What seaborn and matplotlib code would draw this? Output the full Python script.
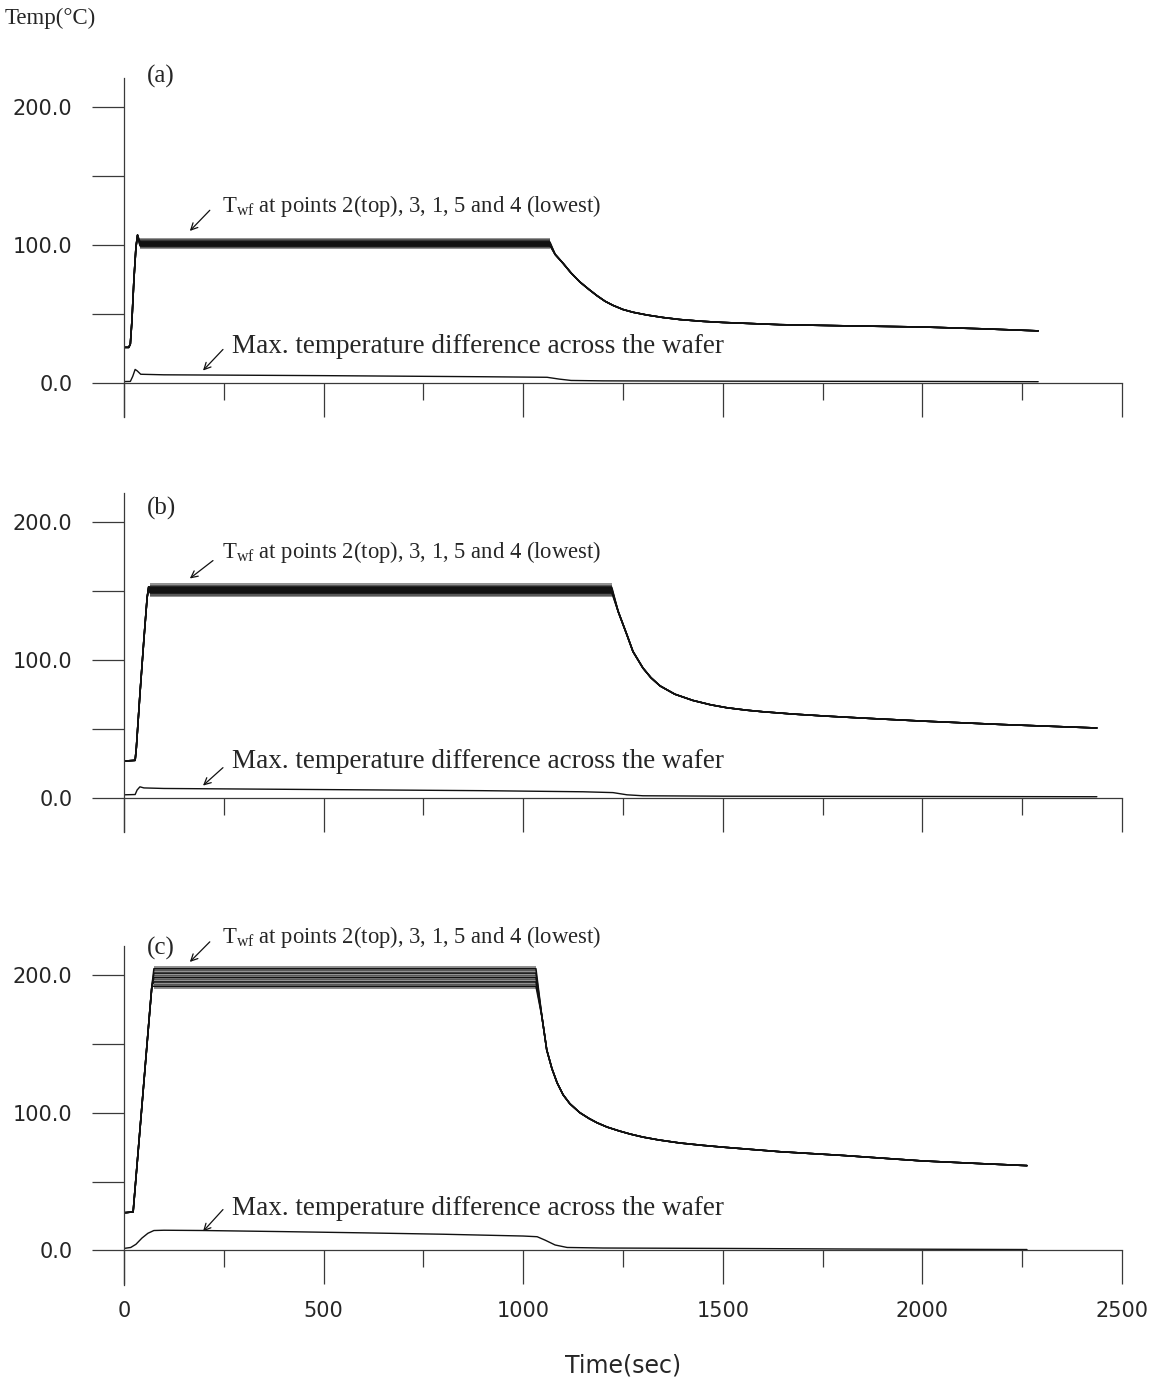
import matplotlib
matplotlib.use("Agg")
import matplotlib.pyplot as plt
import pandas as pd
import seaborn as sns

# ------------------------------------------------------------------ data
points = ["2", "3", "1", "5", "4"]          # top ... lowest

# panel (a)
a_rise_t = [0, 12, 16, 20, 25, 30, 34]
a_rise_T = [25.5, 25.5, 28, 45, 75, 98, 107]
a_plateau_t = [40, 1067]
a_levels = [102.0, 101.3, 100.6, 99.9, 99.2]
a_swing = 2.6
a_decay_t = [1080, 1100, 1120, 1142, 1165, 1185, 1205, 1225, 1250, 1275,
             1310, 1350, 1393, 1450, 1500, 1643, 1800, 2000, 2150, 2290]
a_decay_T = [93, 86.5, 79.5, 73, 67.5, 63, 59, 56, 53, 51,
             49, 47.2, 45.7, 44.4, 43.6, 42, 41.2, 40.3, 39, 37.5]
a_diff_t = [0, 16, 22, 28, 33, 42, 100, 300, 500, 700, 900, 1060, 1090,
            1120, 1200, 1500, 2000, 2290]
a_diff_T = [0.7, 0.8, 4.5, 9.5, 8.5, 6.0, 5.6, 5.3, 5.0, 4.6, 4.2, 3.8, 2.5,
            1.5, 1.2, 1.0, 0.8, 0.6]

# panel (b)
b_rise_t = [0, 28, 31, 40, 50, 58, 62]
b_rise_T = [26.5, 27, 36, 75, 115, 145, 153]
b_plateau_t = [65, 1222]
b_levels = [152.6, 151.6, 150.6, 149.6, 148.6]
b_swing = 3.0
b_decay_t = [1238, 1260, 1275, 1300, 1320, 1343, 1380, 1425, 1470, 1510,
             1560, 1600, 1676, 1760, 1843, 2000, 2200, 2437]
b_decay_T = [135, 118, 106, 94, 87, 81, 75, 70.5, 67.3, 65.2,
             63.4, 62.3, 60.6, 59.1, 57.8, 55.5, 53, 50.5]
b_diff_t = [0, 28, 33, 40, 50, 100, 300, 600, 900, 1150, 1225, 1260, 1300,
            1500, 2000, 2437]
b_diff_T = [2.0, 2.2, 5.5, 7.8, 7.0, 6.6, 6.2, 5.6, 5.0, 4.2, 3.6, 2.0, 1.3,
            1.0, 0.8, 0.6]

# panel (c)
c_rise_t = [0, 5, 23, 27, 35, 45, 55, 65, 70]
c_rise_T = [27.5, 27.5, 28, 42, 70, 105, 140, 175, 192]
c_plateau_t = [75, 1032]
c_levels = [204.5, 201.3, 198.1, 194.9, 191.7]
c_swing = 2.0
c_decay_t = [1047, 1059, 1072, 1085, 1100, 1117, 1142, 1165, 1185, 1210,
             1240, 1268, 1300, 1340, 1393, 1450, 1500, 1643, 1800, 2000,
             2150, 2262]
c_decay_T = [169.6, 145.6, 132, 121.7, 113, 106.5, 100, 95.8, 92.7, 89.6,
             86.8, 84.5, 82.3, 80.2, 78, 76.3, 75, 71.7, 69, 65,
             63, 61.6]
c_diff_t = [0, 17, 30, 45, 60, 75, 100, 200, 400, 600, 800, 1000, 1035,
            1055, 1080, 1110, 1200, 1500, 1800, 2262]
c_diff_T = [1.5, 2.2, 4.5, 9, 12.5, 14.5, 14.7, 14.5, 13.7, 12.8, 11.8, 10.5,
            10.0, 7.5, 4.0, 2.2, 1.8, 1.5, 1.1, 0.7]

x_major = [0, 500, 1000, 1500, 2000, 2500]
x_minor = [250, 750, 1250, 1750, 2250]
y_ticks = [0, 50, 100, 150, 200]
y_labelled = [0, 100, 200]

twf_text = r"T$_{\mathrm{wf}}$ at points 2(top), 3, 1, 5 and 4 (lowest)"
diff_text = "Max. temperature difference across the wafer"

# ------------------------------------------------------------------ style
sns.set_theme(style="white")
plt.rcParams["font.family"] = ["DejaVu Sans"]
plt.rcParams["mathtext.fontset"] = "custom"
plt.rcParams["mathtext.rm"] = "Liberation Serif"
plt.rcParams["mathtext.it"] = "Liberation Serif:italic"
SERIF = ["Liberation Serif", "DejaVu Serif"]
INK = "#111111"
AX = "#3a3a3a"

fig = plt.figure(figsize=(11.65, 13.83), dpi=100)

panels = [
    dict(tag="(a)", bottom=0.6985, rise_t=a_rise_t, rise_T=a_rise_T,
         plat=a_plateau_t, levels=a_levels, swing=a_swing,
         dec_t=a_decay_t, dec_T=a_decay_T, dt=a_diff_t, dT=a_diff_T,
         tag_y=222, twf_xy=(245, 128), twf_arrow=((215, 125), (165, 110)),
         diff_xy=(270, 26.5), diff_arrow=((248, 24), (198, 8.7))),
    dict(tag="(b)", bottom=0.3984, rise_t=b_rise_t, rise_T=b_rise_T,
         plat=b_plateau_t, levels=b_levels, swing=b_swing,
         dec_t=b_decay_t, dec_T=b_decay_T, dt=b_diff_t, dT=b_diff_T,
         tag_y=210, twf_xy=(245, 178), twf_arrow=((223, 172), (165, 159)),
         diff_xy=(270, 26.2), diff_arrow=((248, 21.7), (198, 8.7))),
    dict(tag="(c)", bottom=0.0709, rise_t=c_rise_t, rise_T=c_rise_T,
         plat=c_plateau_t, levels=c_levels, swing=c_swing,
         dec_t=c_decay_t, dec_T=c_decay_T, dt=c_diff_t, dT=c_diff_T,
         tag_y=219.5, twf_xy=(245, 227.5), twf_arrow=((215, 224), (165, 209.4)),
         diff_xy=(270, 30.5), diff_arrow=((248, 29.7), (198, 13.8))),
]

for i, p in enumerate(panels):
    ax = fig.add_axes([0.1064, p["bottom"], 0.8567, 0.2451])

    # wafer temperature at the five points
    rows = []
    for pt, lvl in zip(points, p["levels"]):
        ts = p["rise_t"] + p["plat"] + p["dec_t"]
        Ts = p["rise_T"] + [lvl, lvl] + p["dec_T"]
        rows += [{"t": t, "T": T, "point": pt} for t, T in zip(ts, Ts)]
    df = pd.DataFrame(rows)
    for pt, lvl in zip(points, p["levels"]):
        ax.fill_between(p["plat"], [lvl - p["swing"]] * 2, [lvl + p["swing"]] * 2,
                        color=INK, alpha=0.45, lw=0)
    sns.lineplot(data=df, x="t", y="T", hue="point", palette=[INK] * 5,
                 estimator=None, legend=False, lw=1.1, ax=ax)

    # max temperature difference
    ddf = pd.DataFrame({"t": p["dt"], "T": p["dT"]})
    sns.lineplot(data=ddf, x="t", y="T", color=INK, estimator=None,
                 lw=1.0, ax=ax)

    ax.set_xlim(0, 2500)
    ax.set_ylim(-25, 221)
    ax.set_xlabel("")
    ax.set_ylabel("")
    for s in ("top", "right"):
        ax.spines[s].set_visible(False)
    ax.spines["left"].set_position(("data", 0))
    ax.spines["bottom"].set_position(("data", 0))
    for s in ("left", "bottom"):
        ax.spines[s].set_color(AX)
        ax.spines[s].set_linewidth(0.9)

    ax.set_xticks(x_major)
    ax.set_xticks(x_minor, minor=True)
    ax.set_yticks(y_ticks)
    ax.set_yticklabels([f"{v:.1f}" if v in y_labelled else "" for v in y_ticks])
    ax.tick_params(axis="x", which="both", bottom=True, top=False)
    ax.tick_params(axis="y", which="both", left=True, right=False)
    ax.tick_params(axis="x", which="major", direction="out", length=24.5,
                   width=0.9, color=AX, pad=12, labelsize=15)
    ax.tick_params(axis="x", which="minor", direction="out", length=12.5,
                   width=0.9, color=AX)
    ax.tick_params(axis="y", which="major", direction="out", length=23,
                   width=0.9, color=AX, pad=14, labelsize=15)
    if i < 2:
        ax.tick_params(axis="x", labelbottom=False)

    ax.text(58, p["tag_y"], p["tag"], family=SERIF, fontsize=18,
            va="center", ha="left", clip_on=False)
    ax.text(p["twf_xy"][0], p["twf_xy"][1], twf_text, family=SERIF,
            fontsize=16.3, va="center", ha="left", clip_on=False)
    ax.text(p["diff_xy"][0], p["diff_xy"][1], diff_text, family=SERIF,
            fontsize=19.5, va="center", ha="left", clip_on=False)
    for (x0, y0), (x1, y1) in (p["twf_arrow"], p["diff_arrow"]):
        ax.annotate("", xy=(x1, y1), xytext=(x0, y0),
                    arrowprops=dict(arrowstyle="->", lw=0.9, color=INK,
                                    mutation_scale=12, shrinkA=0, shrinkB=0))

fig.text(5 / 1165, 1 - 18 / 1383, "Temp(°C)", family=SERIF, fontsize=16.5,
         ha="left", va="center")
fig.text(623 / 1165, 1 - 1365 / 1383, "Time(sec)", fontsize=17,
         ha="center", va="center")

fig.savefig("out.png", dpi=100)
